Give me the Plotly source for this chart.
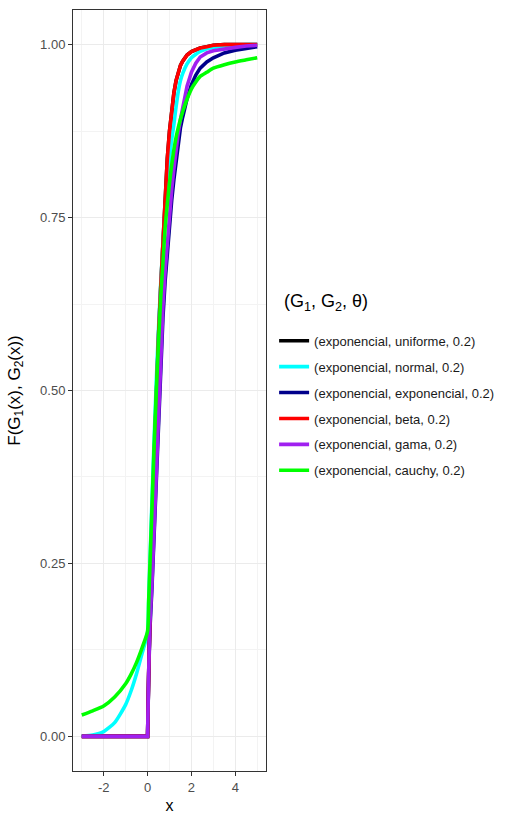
import plotly.graph_objects as go

x_vals = [-3, -2.5, -2, -1.5, -1, -0.75, -0.5, -0.25, 0, 0.05, 0.1, 0.2, 0.3, 0.4, 0.5,
          0.6, 0.7, 0.8, 0.9, 1.0, 1.1, 1.2, 1.3, 1.4, 1.5, 1.6, 1.8, 2.0, 2.2, 2.4,
          2.7, 3.0, 3.5, 4.0, 4.5, 5.0]

y_uniforme = [0, 0, 0, 0, 0, 0, 0, 0, 0, 0.09, 0.17, 0.29, 0.40, 0.50, 0.58,
              0.65, 0.72, 0.785, 0.835, 0.875, 0.905, 0.93, 0.948, 0.96, 0.97, 0.976, 0.985, 0.99, 0.993, 0.995,
              0.997, 0.999, 1.0, 1.0, 1.0, 1.0]
y_normal = [0.0005, 0.002, 0.007, 0.02, 0.046, 0.066, 0.091, 0.12, 0.15, 0.195, 0.245, 0.34, 0.43, 0.515, 0.59,
            0.655, 0.71, 0.76, 0.80, 0.835, 0.862, 0.885, 0.91, 0.932, 0.948, 0.958, 0.972, 0.981, 0.986, 0.99,
            0.994, 0.996, 0.998, 0.999, 1.0, 1.0]
y_exponencial = [0, 0, 0, 0, 0, 0, 0, 0, 0, 0.085, 0.15, 0.215, 0.29, 0.375, 0.465,
                 0.54, 0.605, 0.658, 0.70, 0.74, 0.775, 0.805, 0.833, 0.86, 0.88, 0.895, 0.922, 0.942, 0.956, 0.966,
                 0.975, 0.981, 0.988, 0.992, 0.995, 0.997]
y_beta = [0, 0, 0, 0, 0, 0, 0, 0, 0, 0.09, 0.17, 0.29, 0.40, 0.50, 0.58,
          0.65, 0.72, 0.785, 0.835, 0.875, 0.905, 0.93, 0.948, 0.96, 0.97, 0.976, 0.985, 0.99, 0.993, 0.995,
          0.997, 0.999, 1.0, 1.0, 1.0, 1.0]
y_gama = [0, 0, 0, 0, 0, 0, 0, 0, 0, 0.09, 0.16, 0.22, 0.30, 0.385, 0.48,
          0.555, 0.62, 0.672, 0.715, 0.755, 0.79, 0.82, 0.848, 0.872, 0.892, 0.91, 0.94, 0.96, 0.973, 0.982,
          0.988, 0.991, 0.994, 0.996, 0.998, 0.999]
y_cauchy = [0.031, 0.037, 0.044, 0.057, 0.076, 0.090, 0.107, 0.128, 0.152, 0.195, 0.24, 0.33, 0.42, 0.50, 0.57,
            0.635, 0.685, 0.735, 0.77, 0.80, 0.826, 0.848, 0.866, 0.88, 0.892, 0.903, 0.921, 0.936, 0.946, 0.954,
            0.960, 0.966, 0.971, 0.975, 0.978, 0.981]

series_names = ["(exponencial, uniforme, 0.2)", "(exponencial, normal, 0.2)",
                "(exponencial, exponencial, 0.2)", "(exponencial, beta, 0.2)",
                "(exponencial, gama, 0.2)", "(exponencial, cauchy, 0.2)"]
series_values = [y_uniforme, y_normal, y_exponencial, y_beta, y_gama, y_cauchy]
series_colors = ["#000000", "#00FFFF", "#00008B", "#FF0000", "#A020F0", "#00FF00"]
series_smooth = [False, True, False, False, False, True]

x_ticks = [-2, 0, 2, 4]
x_ticktext = ["-2", "0", "2", "4"]
y_ticks = [0, 0.25, 0.5, 0.75, 1.0]
y_ticktext = ["0.00", "0.25", "0.50", "0.75", "1.00"]

fig = go.Figure()
for i, (name, vals, col, sm) in enumerate(zip(series_names, series_values, series_colors, series_smooth)):
    line = dict(color=col, width=3.6)
    if sm:
        line.update(shape="spline", smoothing=0.6)
    fig.add_trace(go.Scatter(x=x_vals, y=vals, mode="lines", name=name,
                             line=line, legendgroup=str(i)))

font_family = "Liberation Sans, Arial, sans-serif"
fig.update_layout(
    width=521, height=814,
    margin=dict(l=73, r=255, t=10, b=43, autoexpand=False),
    paper_bgcolor="white", plot_bgcolor="white",
    font=dict(family=font_family, color="#000000"),
    legend=dict(
        font=dict(size=13, color="#1a1a1a"),
        x=1.042, xanchor="left", y=0.585, yanchor="top",
        tracegroupgap=6, itemwidth=30,
        bgcolor="rgba(0,0,0,0)",
    ),
    annotations=[dict(
        text="(G<sub>1</sub>, G<sub>2</sub>, θ)", xref="paper", yref="paper",
        x=1.083, y=0.616, xanchor="left", yanchor="middle", showarrow=False,
        font=dict(size=18, color="#000000"),
    )],
    xaxis=dict(
        range=[-3.4, 5.4], tickvals=x_ticks, ticktext=x_ticktext, automargin=False,
        showgrid=True, gridcolor="#EBEBEB", gridwidth=1.2, zeroline=False,
        minor=dict(dtick=1, tick0=-3, showgrid=True, gridcolor="#F3F3F3", gridwidth=0.6),
        showline=True, mirror=True, linecolor="#333333", linewidth=1,
        ticks="outside", ticklen=4, tickcolor="#333333", tickwidth=1,
        tickfont=dict(size=13, color="#4D4D4D"),
        title=dict(text="x", font=dict(size=16, color="#000000")),
    ),
    yaxis=dict(
        range=[-0.05, 1.05], tickvals=y_ticks, ticktext=y_ticktext, automargin=False,
        showgrid=True, gridcolor="#EBEBEB", gridwidth=1.2, zeroline=False,
        minor=dict(dtick=0.125, tick0=0, showgrid=True, gridcolor="#F3F3F3", gridwidth=0.6),
        showline=True, mirror=True, linecolor="#333333", linewidth=1,
        ticks="outside", ticklen=4, tickcolor="#333333", tickwidth=1,
        tickfont=dict(size=13, color="#4D4D4D"),
        title=dict(text="F(G<sub>1</sub>(x), G<sub>2</sub>(x))", font=dict(size=17, color="#000000")),
    ),
)

fig.write_html("out.html")
